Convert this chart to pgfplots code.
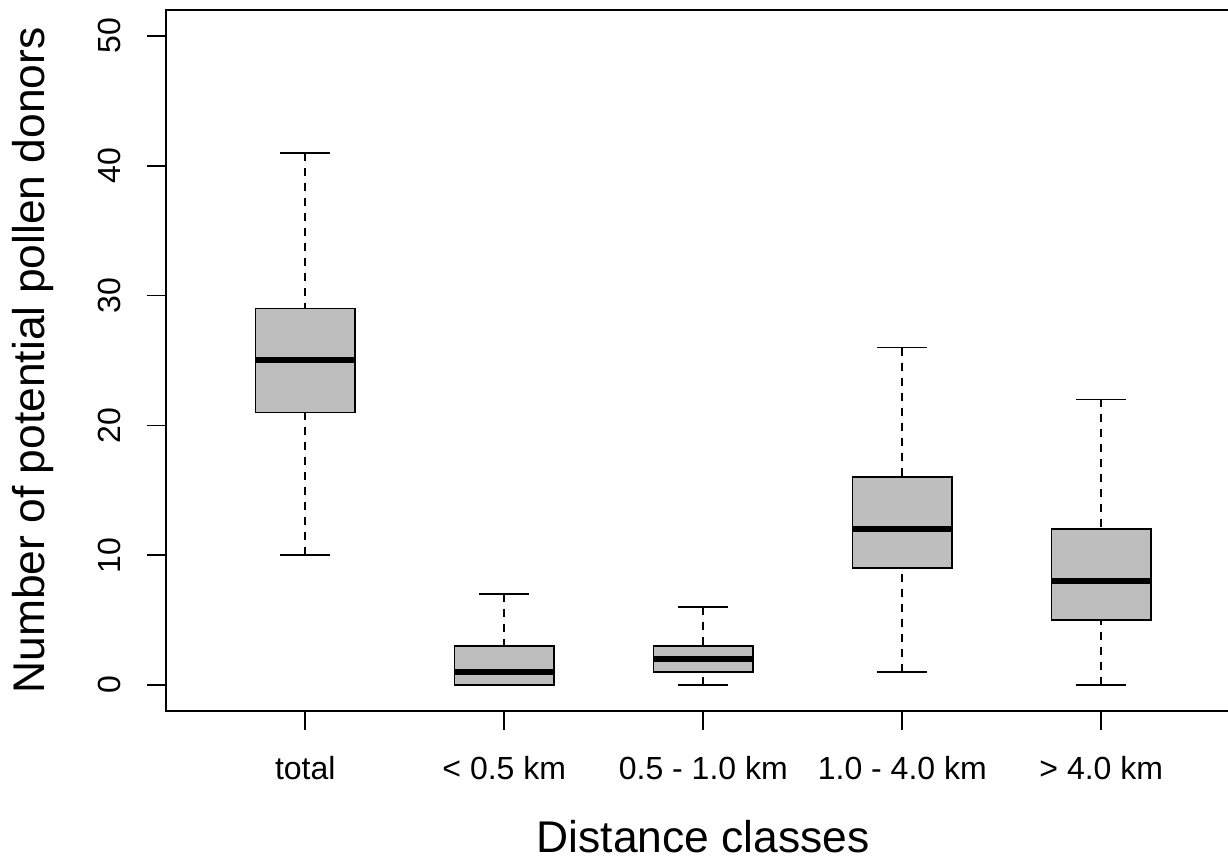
\documentclass[border=0pt]{standalone}
\usepackage{pgfplots}
\pgfplotsset{compat=1.18}
\usepgfplotslibrary{statistics}
\usepackage{fontspec}
\setmainfont{Liberation Sans}
\definecolor{boxgray}{HTML}{BEBEBE}

\begin{document}
\begin{tikzpicture}
\begin{axis}[
  at={(83pt,75pt)}, anchor=south west,
  scale only axis,
  width=537.3pt, height=350.5pt,
  xmin=0.3, xmax=5.7,
  ymin=-2, ymax=52,
  xtick={1,2,3,4,5},
  xticklabels={total, < 0.5 km, 0.5 - 1.0 km, 1.0 - 4.0 km, > 4.0 km},
  ytick={0,10,20,30,40,50},
  tick align=outside, tick pos=left,
  major tick length=9.5pt,
  every tick/.style={black, line width=0.9pt},
  axis line style={line width=1pt},
  /pgf/number format/assume math mode=true,
  tick label style={font=\fontsize{16}{19}\selectfont},
  xticklabel style={anchor=base, yshift=-25pt},
  yticklabel style={xshift=-13pt, rotate=90, anchor=base},
  xlabel={Distance classes},
  ylabel={Number of potential pollen donors},
  every axis x label/.style={at={(axis description cs:0.5,0)}, yshift=-71pt, anchor=base, font=\fontsize{22.2}{26}\selectfont},
  every axis y label/.style={at={(axis description cs:0,0.5)}, xshift=-60.5pt, rotate=90, anchor=base, font=\fontsize{22.2}{26}\selectfont},
  boxplot/draw direction=y,
  boxplot/box extend=0.5,
  boxplot/whisker extend=0.25,
  boxplot/every median/.style={line width=3pt},
  boxplot/draw/lower whisker/.code={%
    \draw[dash pattern=on 4pt off 3.5pt, line width=0.85pt]
      (boxplot box cs:\pgfplotsboxplotvalue{lower whisker},0.5) --
      (boxplot box cs:\pgfplotsboxplotvalue{lower quartile},0.5);
    \draw[line width=0.85pt]
      (boxplot whisker cs:\pgfplotsboxplotvalue{lower whisker},0) --
      (boxplot whisker cs:\pgfplotsboxplotvalue{lower whisker},1);
  },
  boxplot/draw/upper whisker/.code={%
    \draw[dash pattern=on 4pt off 3.5pt, line width=0.85pt]
      (boxplot box cs:\pgfplotsboxplotvalue{upper whisker},0.5) --
      (boxplot box cs:\pgfplotsboxplotvalue{upper quartile},0.5);
    \draw[line width=0.85pt]
      (boxplot whisker cs:\pgfplotsboxplotvalue{upper whisker},0) --
      (boxplot whisker cs:\pgfplotsboxplotvalue{upper whisker},1);
  },
]
% total
\addplot[draw=black, fill=boxgray, line width=0.85pt,
  boxplot prepared={draw position=1, lower whisker=10, lower quartile=21,
    median=25, upper quartile=29, upper whisker=41}] coordinates {};
% < 0.5 km
\addplot[draw=black, fill=boxgray, line width=0.85pt,
  boxplot prepared={draw position=2, lower whisker=0, lower quartile=0,
    median=1, upper quartile=3, upper whisker=7}] coordinates {};
% 0.5 - 1.0 km
\addplot[draw=black, fill=boxgray, line width=0.85pt,
  boxplot prepared={draw position=3, lower whisker=0, lower quartile=1,
    median=2, upper quartile=3, upper whisker=6}] coordinates {};
% 1.0 - 4.0 km
\addplot[draw=black, fill=boxgray, line width=0.85pt,
  boxplot prepared={draw position=4, lower whisker=1, lower quartile=9,
    median=12, upper quartile=16, upper whisker=26}] coordinates {};
% > 4.0 km
\addplot[draw=black, fill=boxgray, line width=0.85pt,
  boxplot prepared={draw position=5, lower whisker=0, lower quartile=5,
    median=8, upper quartile=12, upper whisker=22}] coordinates {};
\end{axis}
\pgfresetboundingbox
\useasboundingbox (0,0) rectangle (614pt,430.5pt);
\end{tikzpicture}
\end{document}
